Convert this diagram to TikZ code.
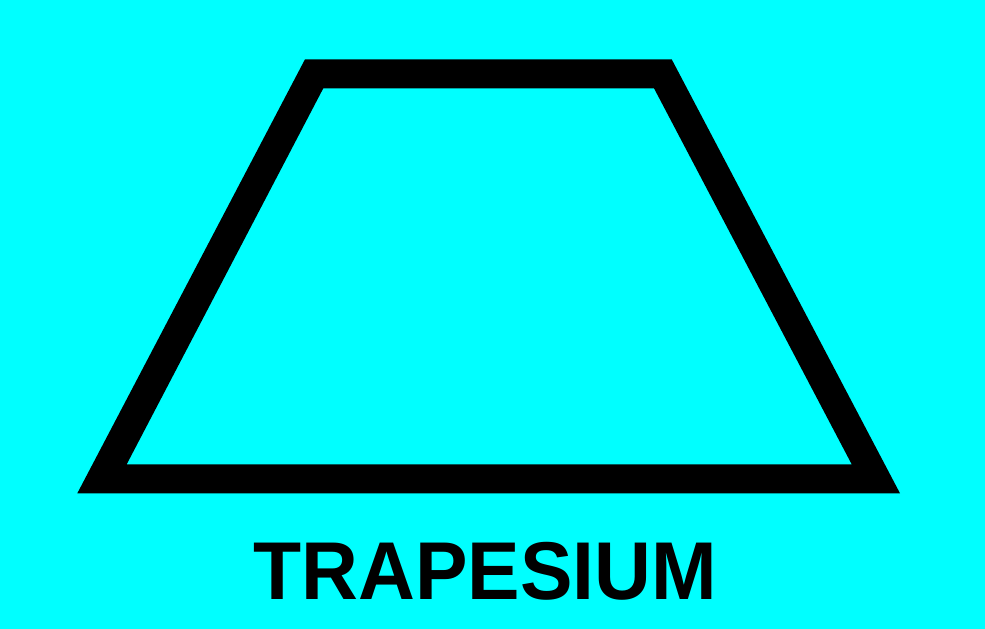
\documentclass[tikz,border=0pt]{standalone}
\usepackage{fontspec}
\setmainfont{Liberation Sans}
\definecolor{bgcyan}{RGB}{0,255,255}
\begin{document}
\begin{tikzpicture}[x=1pt,y=-1pt,font=\bfseries\fontsize{82}{82}\selectfont]
\fill[bgcyan] (0,0) rectangle (985,629);
\useasboundingbox (0,0) rectangle (985,629);
\fill[black,even odd rule] (305,59.3) -- (671.7,59.3) -- (900,493.3) -- (77.3,493.3) -- cycle
  (323.3,88.3) -- (654,88.3) -- (851.7,464.3) -- (126.7,464.3) -- cycle;
\node[xscale=0.96,inner sep=0,anchor=base] (label) at (485.5,599.3) {TRAPESIUM};
\end{tikzpicture}
\end{document}
